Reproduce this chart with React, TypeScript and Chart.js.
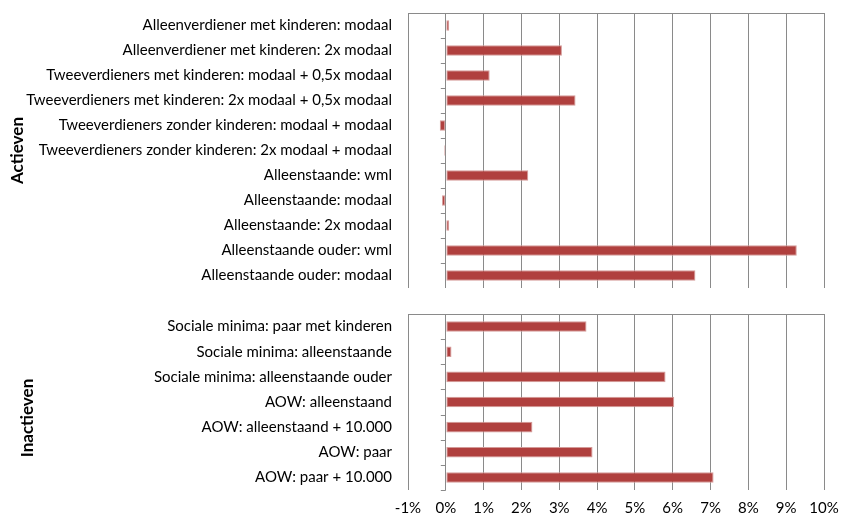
import React, { useEffect, useRef } from "react";
import { Chart, registerables } from "chart.js";

Chart.register(...registerables);

const activeLabels = [
  "Alleenverdiener met kinderen: modaal",
  "Alleenverdiener met kinderen: 2x modaal",
  "Tweeverdieners met kinderen: modaal + 0,5x modaal",
  "Tweeverdieners met kinderen: 2x modaal + 0,5x modaal",
  "Tweeverdieners zonder kinderen: modaal + modaal",
  "Tweeverdieners zonder kinderen: 2x modaal + modaal",
  "Alleenstaande: wml",
  "Alleenstaande: modaal",
  "Alleenstaande: 2x modaal",
  "Alleenstaande ouder: wml",
  "Alleenstaande ouder: modaal",
];
const activeValues = [0.09, 3.07, 1.16, 3.43, -0.16, -0.04, 2.18, -0.1, 0.09, 9.28, 6.6];

const inactiveLabels = [
  "Sociale minima: paar met kinderen",
  "Sociale minima: alleenstaande",
  "Sociale minima: alleenstaande ouder",
  "AOW: alleenstaand",
  "AOW: alleenstaand + 10.000",
  "AOW: paar",
  "AOW: paar + 10.000",
];
const inactiveValues = [3.72, 0.15, 5.81, 6.04, 2.29, 3.88, 7.08];

const xMin = -1;
const xMax = 10;
const groupTitles = ["Actieven", "Inactieven"];

const FONT = "Lato, 'Open Sans', sans-serif";
const GRID = "#8a8a8a";
const BAR = "#B0403E";

const noPad = (s: any) => {
  s.paddingTop = 0;
  s.paddingBottom = 0;
  s.paddingLeft = 0;
  s.paddingRight = 0;
};

const tickMarksPlugin = (title: string, titleX: number, titleDy: number) => ({
  id: "tickMarks_" + title,
  afterDraw(chart: any) {
    const ctx = chart.ctx;
    const y = chart.scales.y;
    const x = chart.scales.x;
    const x0 = x.getPixelForValue(0);
    const n = chart.data.labels.length;
    ctx.save();
    ctx.strokeStyle = GRID;
    ctx.lineWidth = 1;
    for (let i = 0; i <= n; i++) {
      const py = Math.round(y.getPixelForValue(i - 0.5)) + 0.5;
      ctx.beginPath();
      ctx.moveTo(x0 - 5, py);
      ctx.lineTo(x0, py);
      ctx.stroke();
    }
    const ca = chart.chartArea;
    ctx.translate(titleX, (ca.top + ca.bottom) / 2 + titleDy);
    ctx.rotate(-Math.PI / 2);
    ctx.fillStyle = "#000";
    ctx.font = "bold 17px " + FONT;
    ctx.textAlign = "center";
    ctx.textBaseline = "middle";
    ctx.fillText(title, 0, 0);
    ctx.restore();
  },
});

function makeConfig(
  labels: string[],
  values: number[],
  showTicks: boolean,
  padTop: number,
  padBottom: number,
  title: string,
  titleX: number,
  titleDy: number
): any {
  return {
    type: "bar",
    data: {
      labels,
      datasets: [
        {
          data: values,
          backgroundColor: BAR,
          borderColor: "#D49A98",
          borderWidth: 1,
          borderSkipped: false,
          barPercentage: 0.42,
          categoryPercentage: 1,
        },
      ],
    },
    options: {
      indexAxis: "y",
      animation: false,
      responsive: false,
      maintainAspectRatio: false,
      layout: { padding: { left: 0, right: 29, top: padTop, bottom: padBottom } },
      plugins: { legend: { display: false }, tooltip: { enabled: false } },
      scales: {
        x: {
          type: "linear",
          position: "bottom",
          min: xMin,
          max: xMax,
          ticks: {
            display: showTicks,
            stepSize: 1,
            padding: 9,
            color: "#000",
            font: { family: FONT, size: 15 },
            callback: (v: number) => v + "%",
          },
          grid: { color: GRID, lineWidth: 1, drawTicks: false },
          border: { display: false },
          afterFit: (s: any) => {
            noPad(s);
            s.height = showTicks ? 27 : 0;
          },
        },
        x2: {
          type: "linear",
          position: "top",
          min: xMin,
          max: xMax,
          ticks: { display: false },
          grid: { display: false, drawTicks: false },
          border: { display: true, color: GRID, width: 1 },
          afterFit: (s: any) => {
            noPad(s);
            s.height = 0;
          },
        },
        y: {
          type: "category",
          offset: true,
          ticks: {
            color: "#000",
            padding: 16,
            font: { family: FONT, size: 15 },
          },
          grid: { display: false, drawTicks: false },
          border: { display: false },
          afterFit: (s: any) => {
            noPad(s);
            s.width = 408;
          },
        },
      },
    },
    plugins: [tickMarksPlugin(title, titleX, titleDy)],
  };
}

function Panel(props: { cfg: any; top: number; height: number }) {
  const ref = useRef<HTMLCanvasElement>(null);
  useEffect(() => {
    const chart = new Chart(ref.current as HTMLCanvasElement, props.cfg);
    return () => chart.destroy();
  }, []);
  return (
    <canvas
      ref={ref}
      width={853}
      height={props.height}
      style={{ position: "absolute", left: 0, top: props.top, width: 853, height: props.height }}
    />
  );
}

export default function App() {
  const topCfg = makeConfig(activeLabels, activeValues, false, 13, 0, groupTitles[0], 18, 0);
  const botCfg = makeConfig(inactiveLabels, inactiveValues, true, 14, 0, groupTitles[1], 28, 16);
  return (
    <div style={{ position: "fixed", left: 0, top: 0, width: 853, height: 517, background: "#fff" }}>
      <Panel cfg={topCfg} top={0} height={288} />
      <Panel cfg={botCfg} top={300} height={217} />
    </div>
  );
}
